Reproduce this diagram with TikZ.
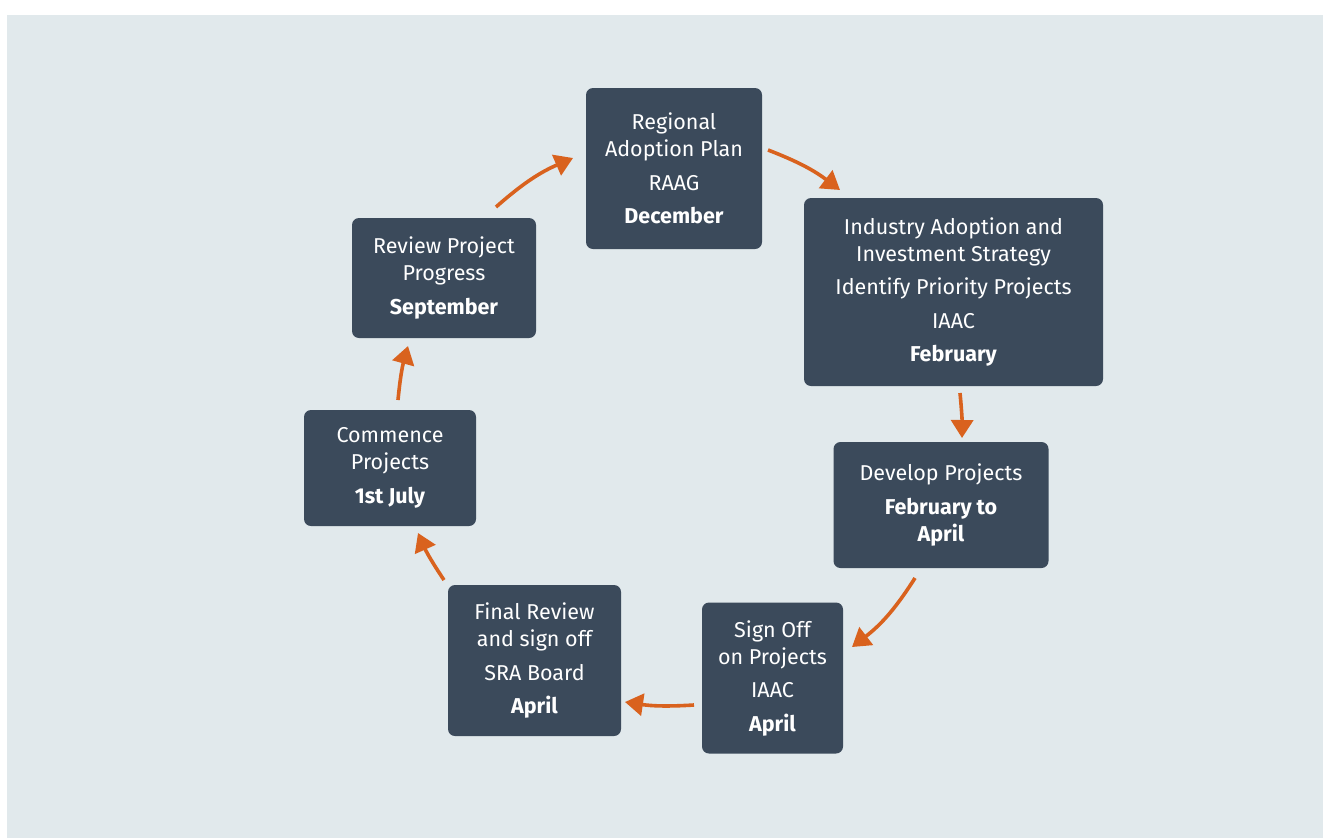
\documentclass[tikz,border=0pt]{standalone}
\usepackage{fontspec}
\setmainfont{Fira Sans}
\usetikzlibrary{arrows.meta}
\definecolor{bgc}{HTML}{E1E9EC}
\definecolor{boxc}{HTML}{3B4A5B}
\definecolor{arrc}{HTML}{D9621E}
\tikzset{
  stagebox/.style={fill=boxc, rounded corners=7pt, text=white, align=center,
    inner sep=0pt, font=\fontsize{21.5}{27}\selectfont},
  cyclearrow/.style={draw=arrc, line width=3.6pt,
    -{Triangle[width=22pt,length=18pt]}},
}
\begin{document}
\begin{tikzpicture}[x=1pt,y=1pt]
\useasboundingbox (0,0) rectangle (1323,-838);
\fill[white] (0,0) rectangle (1323,-838);
\fill[bgc] (7,-15) rectangle (1323,-838);

\node[stagebox, minimum width=176pt, minimum height=161pt] (reg) at (674,-168.5)
  {Regional\\Adoption Plan\\[6.5pt]RAAG\\[6.5pt]\textbf{December}};
\node[stagebox, minimum width=299pt, minimum height=188pt] (ind) at (953.5,-292)
  {Industry Adoption and\\Investment Strategy\\[6.5pt]Identify Priority Projects\\[6.5pt]IAAC\\[6.5pt]\textbf{February}};
\node[stagebox, minimum width=215pt, minimum height=126pt] (dev) at (941,-505)
  {Develop Projects\\[6.5pt]\textbf{February to}\\\textbf{April}};
\node[stagebox, minimum width=141pt, minimum height=151pt] (sig) at (772.5,-678)
  {Sign Off\\on Projects\\[6.5pt]IAAC\\[6.5pt]\textbf{April}};
\node[stagebox, minimum width=173pt, minimum height=151pt] (fin) at (534.5,-660.5)
  {Final Review\\and sign off\\[6.5pt]SRA Board\\[6.5pt]\textbf{April}};
\node[stagebox, minimum width=172pt, minimum height=116pt] (com) at (390,-468)
  {Commence\\Projects\\[6.5pt]\textbf{1st July}};
\node[stagebox, minimum width=184pt, minimum height=120pt] (rev) at (444,-278)
  {Review Project\\Progress\\[6.5pt]\textbf{September}};

\coordinate (a1s) at (768,-150);  \coordinate (a1e) at (840,-190);
\coordinate (a2s) at (960,-393);  \coordinate (a2e) at (962,-438);
\coordinate (a3s) at (915,-578);  \coordinate (a3e) at (852,-647);
\coordinate (a4s) at (694,-705);  \coordinate (a4e) at (625,-702);
\coordinate (a5s) at (444,-580);  \coordinate (a5e) at (418,-533);
\coordinate (a6s) at (398,-400);  \coordinate (a6e) at (408,-346);
\coordinate (a7s) at (496,-207);  \coordinate (a7e) at (573,-158);

\draw[cyclearrow] (a1s) to[bend left=8] (a1e);
\draw[cyclearrow] (a2s) to[bend left=3] (a2e);
\draw[cyclearrow] (a3s) to[bend left=10] (a3e);
\draw[cyclearrow] (a4s) to[bend left=6] (a4e);
\draw[cyclearrow] (a5s) to[bend left=5] (a5e);
\draw[cyclearrow] (a6s) to[bend left=5] (a6e);
\draw[cyclearrow] (a7s) to[bend left=9] (a7e);
\end{tikzpicture}
\end{document}
